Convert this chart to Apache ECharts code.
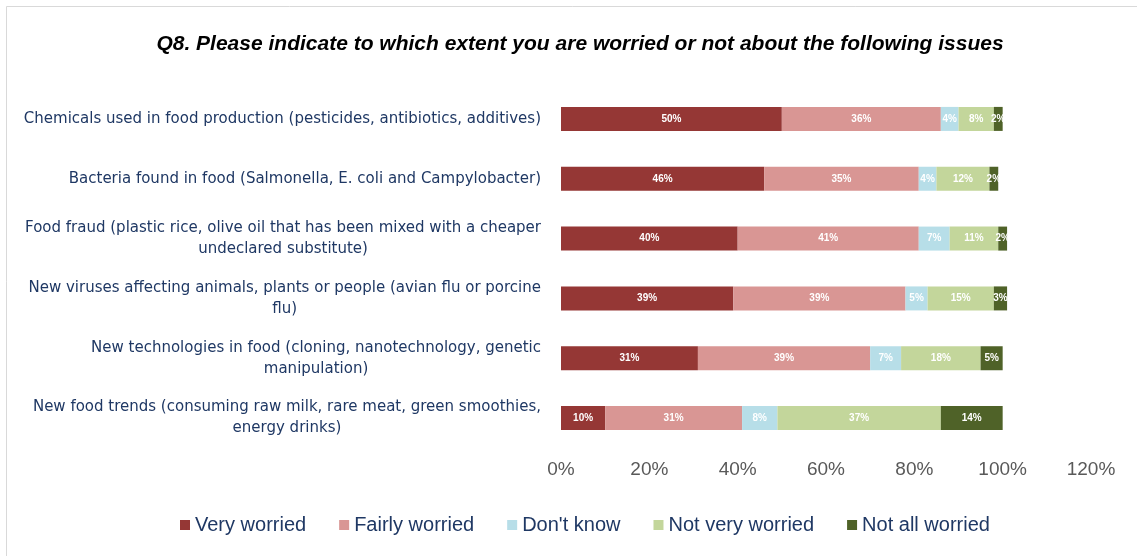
<!DOCTYPE html>
<html>
<head>
<meta charset="utf-8">
<script src="https://cdn.jsdelivr.net/npm/echarts@6/dist/echarts.min.js"></script>
<style>
html,body{margin:0;padding:0;background:#fff;}
#chart{width:1137px;height:556px;}
</style>
</head>
<body>
<div id="chart"></div>
<script>
const categories = [
  "Chemicals used in food production (pesticides, antibiotics, additives)",
  "Bacteria found in food (Salmonella, E. coli and Campylobacter)",
  "Food fraud (plastic rice, olive oil that has been mixed with a cheaper\nundeclared substitute)",
  "New viruses affecting animals, plants or people (avian flu or porcine\nflu)",
  "New technologies in food (cloning, nanotechnology, genetic\nmanipulation)",
  "New food trends (consuming raw milk, rare meat, green smoothies,\nenergy drinks)"
];
const seriesNames = ["Very worried", "Fairly worried", "Don't know", "Not very worried", "Not all worried"];
const veryWorried   = [50, 46, 40, 39, 31, 10];
const fairlyWorried = [36, 35, 41, 39, 39, 31];
const dontKnow      = [4, 4, 7, 5, 7, 8];
const notVery       = [8, 12, 11, 15, 18, 37];
const notAll        = [2, 2, 2, 3, 5, 14];
const xTicks = [0, 20, 40, 60, 80, 100, 120];

const colors = ["#953735", "#D99694", "#B7DEE8", "#C3D69B", "#4F6228"];
const allData = [veryWorried, fairlyWorried, dontKnow, notVery, notAll];

const chart = echarts.init(document.getElementById('chart'), null, {renderer: 'canvas'});
const option = {
  animation: false,
  backgroundColor: '#fff',
  title: {
    text: 'Q8. Please indicate to which extent you are worried or not about the following issues',
    left: 575, top: 29, textAlign: 'center',
    textStyle: {fontFamily: 'Liberation Sans', fontSize: 21, fontWeight: 'bold', fontStyle: 'italic', color: '#000'}
  },
  graphic: [{
    type: 'rect', shape: {x: 6.5, y: 6.5, width: 1200, height: 600},
    style: {fill: 'none', stroke: '#d9d9d9', lineWidth: 1}, silent: true
  }],
  legend: {
    data: seriesNames,
    left: 175, top: 510,
    itemWidth: 10, itemHeight: 10, itemGap: 33,
    icon: 'rect',
    textStyle: {fontFamily: 'Liberation Sans', fontSize: 20, color: '#1F3864', padding: [0,0,0,0]}
  },
  grid: {left: 561, right: 46, top: 89, bottom: 108, containLabel: false},
  xAxis: {
    type: 'value', min: 0, max: 120, interval: 20,
    axisLine: {show: false}, axisTick: {show: false}, splitLine: {show: false},
    axisLabel: {formatter: v => v + '%', fontFamily: 'Liberation Sans', fontSize: 19, color: '#595959', margin: 12}
  },
  yAxis: {
    type: 'category', data: categories, inverse: true,
    axisLine: {show: false}, axisTick: {show: false},
    axisLabel: {
      margin: 20,
      formatter: v => v.split('\n').map(s => '{c|' + s + '}').join('\n'),
      rich: {c: {align: 'center', fontFamily: 'DejaVu Sans', fontSize: 15, color: '#1F3864', lineHeight: 21}}
    }
  },
  series: seriesNames.map((name, i) => ({
    name: name, type: 'bar', stack: 'total', barWidth: 24,
    data: allData[i],
    itemStyle: {color: colors[i]},
    label: {show: true, position: 'inside', formatter: p => p.value + '%',
      color: '#fff', fontSize: 10, fontWeight: 'bold', fontFamily: 'Liberation Sans'}
  }))
};
chart.setOption(option);
</script>
</body>
</html>
